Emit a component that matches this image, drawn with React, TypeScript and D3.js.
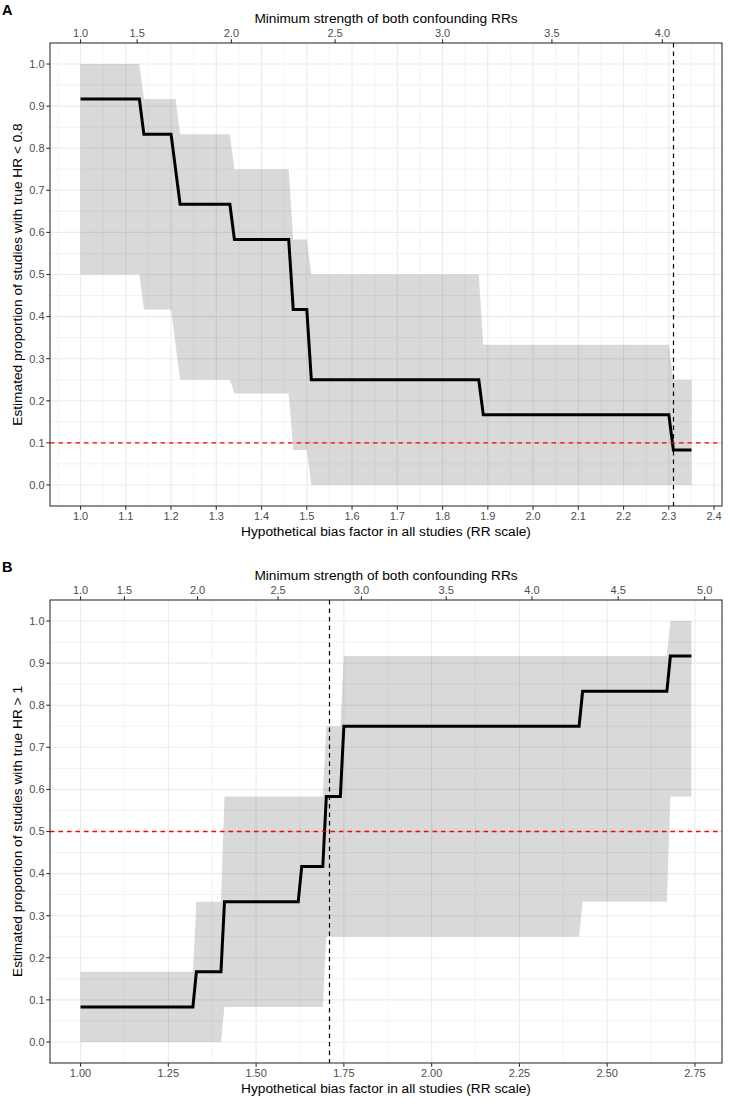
import React from "react";
import * as d3 from "d3";

// ---------- Data ----------
const biasA = [1.0, 1.13, 1.14, 1.2, 1.21, 1.22, 1.33, 1.34, 1.46, 1.47, 1.5, 1.51, 1.88, 1.89, 2.3, 2.31, 2.35];
const estA = [0.917, 0.917, 0.833, 0.833, 0.75, 0.667, 0.667, 0.583, 0.583, 0.417, 0.417, 0.25, 0.25, 0.167, 0.167, 0.083, 0.083];
const loA = [0.5, 0.5, 0.417, 0.417, 0.333, 0.25, 0.25, 0.217, 0.217, 0.083, 0.083, 0.0, 0.0, 0.0, 0.0, 0.0, 0.0];
const hiA = [1.0, 1.0, 0.917, 0.917, 0.917, 0.833, 0.833, 0.75, 0.75, 0.583, 0.583, 0.5, 0.5, 0.333, 0.333, 0.25, 0.25];

const biasB = [1.0, 1.32, 1.33, 1.4, 1.41, 1.62, 1.63, 1.69, 1.7, 1.74, 1.75, 2.42, 2.43, 2.67, 2.68, 2.74];
const estB = [0.083, 0.083, 0.167, 0.167, 0.333, 0.333, 0.417, 0.417, 0.583, 0.583, 0.75, 0.75, 0.833, 0.833, 0.917, 0.917];
const loB = [0.0, 0.0, 0.0, 0.0, 0.083, 0.083, 0.083, 0.083, 0.25, 0.25, 0.25, 0.25, 0.333, 0.333, 0.583, 0.583];
const hiB = [0.167, 0.167, 0.333, 0.333, 0.583, 0.583, 0.583, 0.583, 0.75, 0.75, 0.917, 0.917, 0.917, 0.917, 1.0, 1.0];

const yTicks = [0, 0.1, 0.2, 0.3, 0.4, 0.5, 0.6, 0.7, 0.8, 0.9, 1.0];
const xTicksA = [1.0, 1.1, 1.2, 1.3, 1.4, 1.5, 1.6, 1.7, 1.8, 1.9, 2.0, 2.1, 2.2, 2.3, 2.4];
const xTicksB = [1.0, 1.25, 1.5, 1.75, 2.0, 2.25, 2.5, 2.75];
const topTicksA = [1.0, 1.5, 2.0, 2.5, 3.0, 3.5, 4.0];
const topTicksB = [1.0, 1.5, 2.0, 2.5, 3.0, 3.5, 4.0, 4.5, 5.0];

const thresholdA = 0.1;
const thresholdB = 0.5;
const cutoffA = 2.31;
const cutoffB = 1.71;

const yLabelA = "Estimated proportion of studies with true HR < 0.8";
const yLabelB = "Estimated proportion of studies with true HR > 1";
const xLabel = "Hypothetical bias factor in all studies (RR scale)";
const topLabel = "Minimum strength of both confounding RRs";

// ---------- Styling ----------
const FONT = "'Liberation Sans', Arial, Helvetica, sans-serif";
const GRID = "#EBEBEB";
const AXIS = "#333333";
const TICKTXT = "#4D4D4D";
const TICK_FS = 11;
const TITLE_FS = 13.7;

// E-value transform inverse: bias factor for a given minimum confounding RR
const evalueToBias = (e: number) => (e * e) / (2 * e - 1);
const crisp = (v: number) => Math.floor(v) + 0.5;

interface PanelProps {
  top: number;
  tag: string;
  bias: number[];
  est: number[];
  lo: number[];
  hi: number[];
  xTicks: number[];
  xFmt: (v: number) => string;
  topTicks: number[];
  threshold: number;
  cutoff: number;
  yLabel: string;
}

function Panel(p: PanelProps) {
  const left = 50;
  const right = 722;
  const plotTop = p.top + 43;
  const plotBottom = p.top + 506;

  const [xmin, xmax] = d3.extent(p.bias) as [number, number];
  const ex = (xmax - xmin) * 0.05;
  const x = d3.scaleLinear().domain([xmin - ex, xmax + ex]).range([left, right]);
  const y = d3.scaleLinear().domain([-0.05, 1.05]).range([plotBottom, plotTop]);

  const pts = p.bias.map((b, i) => ({ b, e: p.est[i], l: p.lo[i], h: p.hi[i] }));
  const area = d3
    .area<{ b: number; l: number; h: number }>()
    .x((d) => x(d.b))
    .y0((d) => y(d.l))
    .y1((d) => y(d.h));
  const line = d3
    .line<{ b: number; e: number }>()
    .x((d) => x(d.b))
    .y((d) => y(d.e));

  const [d0, d1] = x.domain();
  const step = p.xTicks[1] - p.xTicks[0];
  const minorX: number[] = [];
  for (let v = p.xTicks[0] - step / 2; v <= d1 + 1e-9; v += step) {
    if (v >= d0 - 1e-9) minorX.push(v);
  }
  const minorY: number[] = [];
  for (let v = 0.05; v < 1.0; v += 0.1) minorY.push(v);

  const cx = (left + right) / 2;
  const cy = (plotTop + plotBottom) / 2;
  const ty = y(p.threshold);
  const vx = crisp(x(p.cutoff));

  return (
    <g fontFamily={FONT}>
      {/* panel tag */}
      <text x={2} y={p.top + 15} fontSize={14.5} fontWeight="bold" fill="#000">
        {p.tag}
      </text>

      {/* grid */}
      {minorX.map((v) => (
        <line key={"mx" + v} x1={x(v)} x2={x(v)} y1={plotTop} y2={plotBottom} stroke={GRID} strokeWidth={0.6} />
      ))}
      {minorY.map((v) => (
        <line key={"my" + v} x1={left} x2={right} y1={y(v)} y2={y(v)} stroke={GRID} strokeWidth={0.6} />
      ))}
      {p.xTicks.map((v) => (
        <line key={"gx" + v} x1={x(v)} x2={x(v)} y1={plotTop} y2={plotBottom} stroke={GRID} strokeWidth={1.1} />
      ))}
      {yTicks.map((v) => (
        <line key={"gy" + v} x1={left} x2={right} y1={y(v)} y2={y(v)} stroke={GRID} strokeWidth={1.1} />
      ))}

      {/* ribbon and line */}
      <path d={area(pts) || ""} fill="#000" fillOpacity={0.15} />
      <path d={line(pts) || ""} fill="none" stroke="#000" strokeWidth={3} strokeLinejoin="miter" />

      {/* reference lines */}
      <line
        x1={vx}
        x2={vx}
        y1={plotTop}
        y2={plotBottom}
        stroke="#000"
        strokeWidth={1.2}
        strokeDasharray="4.5,4"
      />
      <path
        d={`M${left},${ty}H${right}`}
        fill="none"
        stroke="#FF0000"
        strokeWidth={1.4}
        strokeDasharray="4.5,4"
      />

      {/* border */}
      <rect
        x={left}
        y={plotTop}
        width={right - left}
        height={plotBottom - plotTop}
        fill="none"
        stroke={AXIS}
        strokeWidth={1.1}
      />

      {/* y axis */}
      {yTicks.map((v) => (
        <g key={"yt" + v}>
          <line x1={left - 3.7} x2={left} y1={y(v)} y2={y(v)} stroke={AXIS} strokeWidth={1.1} />
          <text x={left - 5.5} y={y(v)} dy="0.35em" textAnchor="end" fontSize={TICK_FS} fill={TICKTXT}>
            {v.toFixed(1)}
          </text>
        </g>
      ))}
      <text
        transform={`translate(${22},${cy}) rotate(-90)`}
        textAnchor="middle"
        fontSize={TITLE_FS}
        fill="#000"
      >
        {p.yLabel}
      </text>

      {/* bottom axis */}
      {p.xTicks.map((v) => (
        <g key={"xt" + v}>
          <line x1={x(v)} x2={x(v)} y1={plotBottom} y2={plotBottom + 3.7} stroke={AXIS} strokeWidth={1.1} />
          <text x={x(v)} y={plotBottom + 14} textAnchor="middle" fontSize={TICK_FS} fill={TICKTXT}>
            {p.xFmt(v)}
          </text>
        </g>
      ))}
      <text x={cx} y={plotBottom + 30} textAnchor="middle" fontSize={TITLE_FS} fill="#000">
        {xLabel}
      </text>

      {/* top (secondary) axis */}
      {p.topTicks.map((e) => {
        const b = evalueToBias(e);
        return (
          <g key={"tt" + e}>
            <line x1={x(b)} x2={x(b)} y1={plotTop - 3.7} y2={plotTop} stroke={AXIS} strokeWidth={1.1} />
            <text x={x(b)} y={plotTop - 6} textAnchor="middle" fontSize={TICK_FS} fill={TICKTXT}>
              {e.toFixed(1)}
            </text>
          </g>
        );
      })}
      <text x={cx} y={plotTop - 20} textAnchor="middle" fontSize={TITLE_FS} fill="#000">
        {topLabel}
      </text>
    </g>
  );
}

export default function App() {
  return (
    <svg
      width={730}
      height={1104}
      viewBox="0 0 730 1104"
      style={{ position: "absolute", left: 0, top: 0, background: "#fff" }}
    >
      <rect x={0} y={0} width={730} height={1104} fill="#fff" />
      <Panel
        top={0}
        tag="A"
        bias={biasA}
        est={estA}
        lo={loA}
        hi={hiA}
        xTicks={xTicksA}
        xFmt={(v) => v.toFixed(1)}
        topTicks={topTicksA}
        threshold={thresholdA}
        cutoff={cutoffA}
        yLabel={yLabelA}
      />
      <Panel
        top={557}
        tag="B"
        bias={biasB}
        est={estB}
        lo={loB}
        hi={hiB}
        xTicks={xTicksB}
        xFmt={(v) => v.toFixed(2)}
        topTicks={topTicksB}
        threshold={thresholdB}
        cutoff={cutoffB}
        yLabel={yLabelB}
      />
    </svg>
  );
}
